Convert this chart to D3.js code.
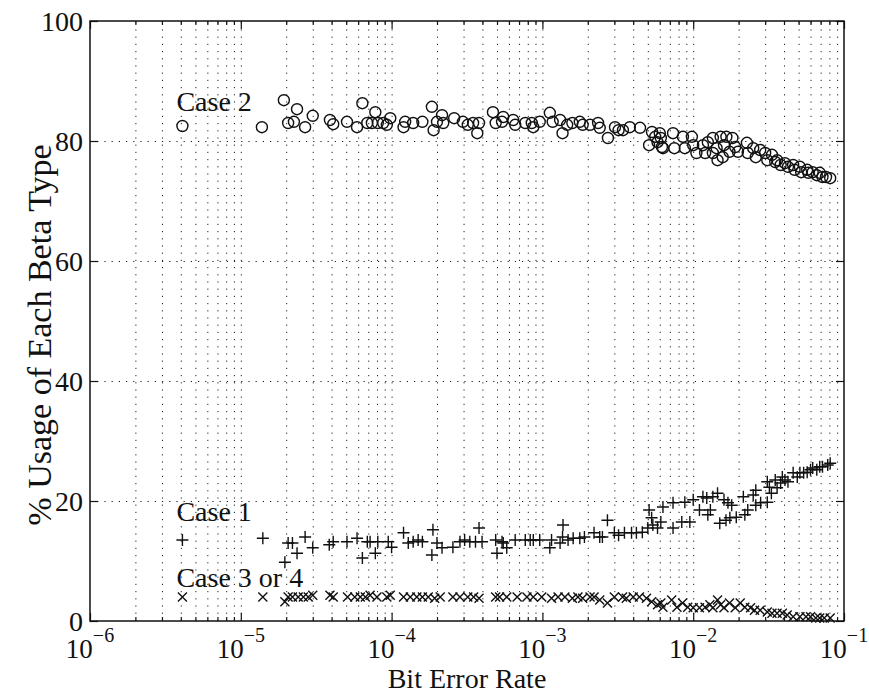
<!DOCTYPE html>
<html>
<head>
<meta charset="utf-8">
<script src="https://cdn.jsdelivr.net/npm/d3@7/dist/d3.min.js"></script>
<style>
  body { margin: 0; background: #fff; }
  .grid line { stroke: #222; stroke-width: 1; stroke-dasharray: 1.2 6; }
  .grid path, .ticks path { display: none; }
  .ticks line { stroke: #111; stroke-width: 1.2; }
</style>
</head>
<body>
<svg id="chart" width="869" height="693"></svg>
<script>
// Axis ticks
const xTickExponents = [-6, -5, -4, -3, -2, -1];
const yTicks = [0, 20, 40, 60, 80, 100];

// Series: [bit error rate, % usage]
const case2 = [
  [4.1e-6, 82.5], [1.38e-5, 82.3], [1.93e-5, 86.8], [2.06e-5, 83.0], [2.25e-5, 83.2],
  [2.36e-5, 85.3], [2.67e-5, 82.3], [3.0e-5, 84.2], [3.9e-5, 83.5], [4.1e-5, 82.8],
  [5.06e-5, 83.2], [5.9e-5, 82.3], [6.4e-5, 86.3], [6.9e-5, 83.0], [7.4e-5, 83.0],
  [7.8e-5, 84.8], [8.1e-5, 83.0], [8.8e-5, 83.0], [9.3e-5, 82.7], [9.8e-5, 83.8],
  [1.2e-4, 82.3], [1.23e-4, 83.2], [1.39e-4, 83.0], [1.6e-4, 83.2], [1.85e-4, 85.7],
  [1.9e-4, 81.8], [2.0e-4, 83.2], [2.16e-4, 84.3], [2.2e-4, 83.0], [2.6e-4, 83.8],
  [2.97e-4, 83.2], [3.2e-4, 82.7], [3.47e-4, 83.0], [3.7e-4, 81.3], [3.8e-4, 83.0],
  [4.7e-4, 84.8], [4.9e-4, 83.0], [5.4e-4, 83.2], [5.5e-4, 84.0], [6.4e-4, 83.5],
  [6.6e-4, 82.7], [7.7e-4, 83.0], [8.5e-4, 83.0], [8.7e-4, 82.3], [9.6e-4, 83.2],
  [1.12e-3, 84.7], [1.17e-3, 83.2], [1.31e-3, 83.5], [1.36e-3, 81.3], [1.46e-3, 82.7],
  [1.58e-3, 83.0], [1.77e-3, 83.2], [1.85e-3, 82.7], [2.07e-3, 82.7], [2.34e-3, 83.0],
  [2.4e-3, 82.2], [2.72e-3, 80.5], [3.03e-3, 82.3], [3.2e-3, 81.8], [3.42e-3, 81.8],
  [3.8e-3, 82.3], [4.44e-3, 82.2], [5.1e-3, 79.3], [5.33e-3, 81.5], [5.6e-3, 80.7],
  [5.8e-3, 79.8], [6.0e-3, 81.3], [6.1e-3, 80.5], [6.2e-3, 79.0], [6.3e-3, 78.8],
  [7.35e-3, 81.3], [7.5e-3, 78.8], [8.55e-3, 80.7], [8.8e-3, 78.8], [9.8e-3, 80.7],
  [1.0e-2, 79.3], [1.05e-2, 78.0], [1.16e-2, 79.3], [1.2e-2, 78.0], [1.25e-2, 79.8],
  [1.35e-2, 80.5], [1.35e-2, 78.0], [1.43e-2, 78.8], [1.45e-2, 76.8], [1.52e-2, 80.7],
  [1.57e-2, 77.3], [1.6e-2, 79.3], [1.66e-2, 80.7], [1.74e-2, 78.2], [1.82e-2, 80.5],
  [1.9e-2, 79.0], [1.98e-2, 78.2], [2.27e-2, 79.7], [2.3e-2, 78.0], [2.5e-2, 78.8],
  [2.6e-2, 77.3], [2.78e-2, 78.5], [3.0e-2, 78.0], [3.1e-2, 76.8], [3.33e-2, 77.7],
  [3.5e-2, 76.5], [3.6e-2, 76.8], [3.8e-2, 76.0], [4.06e-2, 76.3], [4.25e-2, 75.7],
  [4.6e-2, 76.0], [4.7e-2, 75.2], [5.1e-2, 75.7], [5.2e-2, 74.8], [5.7e-2, 75.2],
  [5.8e-2, 74.7], [6.2e-2, 74.8], [6.6e-2, 74.3], [6.9e-2, 74.7], [7.2e-2, 74.0],
  [7.6e-2, 74.0], [8.1e-2, 73.8],
];

const case1 = [
  [4.1e-6, 13.5], [1.4e-5, 13.8], [1.96e-5, 9.8], [2.06e-5, 13.0], [2.2e-5, 13.0],
  [2.36e-5, 11.3], [2.67e-5, 14.0], [3.0e-5, 12.2], [3.86e-5, 12.7], [4.1e-5, 13.2],
  [5.06e-5, 13.2], [5.9e-5, 13.8], [6.4e-5, 10.5], [6.9e-5, 13.2], [7.2e-5, 13.2],
  [7.8e-5, 11.3], [8.1e-5, 13.2], [9.5e-5, 13.2], [1.0e-4, 12.3], [1.2e-4, 14.7],
  [1.29e-4, 13.0], [1.39e-4, 13.2], [1.5e-4, 13.5], [1.6e-4, 13.2], [1.85e-4, 11.0],
  [1.88e-4, 15.2], [2.0e-4, 13.0], [2.16e-4, 12.2], [2.55e-4, 12.3], [2.84e-4, 13.2],
  [3.05e-4, 13.5], [3.3e-4, 13.2], [3.6e-4, 13.2], [3.8e-4, 15.5], [3.98e-4, 13.2],
  [4.9e-4, 13.5], [5.0e-4, 11.3], [5.4e-4, 13.2], [5.5e-4, 13.0], [5.8e-4, 12.2],
  [6.6e-4, 13.5], [7.7e-4, 13.5], [8.3e-4, 13.5], [8.7e-4, 13.5], [9.6e-4, 13.5],
  [1.12e-3, 12.2], [1.15e-3, 13.5], [1.31e-3, 13.0], [1.36e-3, 14.0], [1.37e-3, 16.0],
  [1.48e-3, 13.5], [1.6e-3, 13.8], [1.77e-3, 13.8], [1.9e-3, 14.0], [2.2e-3, 14.7],
  [2.4e-3, 14.0], [2.5e-3, 14.0], [2.7e-3, 16.8], [3.0e-3, 14.7], [3.2e-3, 14.3],
  [3.5e-3, 14.7], [3.9e-3, 14.7], [4.2e-3, 14.7], [4.6e-3, 14.8], [5.0e-3, 15.5],
  [5.1e-3, 18.5], [5.3e-3, 17.2], [5.4e-3, 16.0], [5.8e-3, 15.5], [6.1e-3, 16.5],
  [6.3e-3, 19.0], [7.35e-3, 19.7], [7.35e-3, 15.5], [8.4e-3, 16.5], [8.8e-3, 19.8],
  [9.5e-3, 16.5], [1.0e-2, 20.2], [1.1e-2, 18.5], [1.16e-2, 20.7], [1.23e-2, 20.5],
  [1.25e-2, 17.7], [1.3e-2, 18.5], [1.35e-2, 20.7], [1.45e-2, 21.3], [1.5e-2, 16.3],
  [1.6e-2, 20.2], [1.65e-2, 16.8], [1.7e-2, 19.7], [1.75e-2, 17.2], [1.8e-2, 19.3],
  [1.93e-2, 17.3], [2.15e-2, 20.7], [2.2e-2, 17.7], [2.3e-2, 18.5], [2.5e-2, 21.0],
  [2.6e-2, 21.8], [2.6e-2, 19.3], [2.8e-2, 19.7], [3.1e-2, 19.8], [3.1e-2, 23.2],
  [3.2e-2, 22.3], [3.3e-2, 21.3], [3.5e-2, 23.5], [3.6e-2, 22.2], [3.8e-2, 23.0],
  [3.9e-2, 24.0], [4.06e-2, 23.5], [4.25e-2, 23.2], [4.6e-2, 24.7], [4.9e-2, 24.0],
  [5.1e-2, 24.7], [5.4e-2, 24.7], [5.7e-2, 24.8], [6.0e-2, 25.2], [6.2e-2, 25.5],
  [6.6e-2, 25.2], [6.9e-2, 25.7], [7.2e-2, 25.7], [7.8e-2, 26.0], [8.1e-2, 26.3],
];

const case34 = [
  [4.1e-6, 4.0], [1.4e-5, 4.0], [1.96e-5, 3.2], [2.06e-5, 4.0], [2.2e-5, 4.0],
  [2.4e-5, 4.0], [2.6e-5, 4.0], [2.8e-5, 4.0], [3.0e-5, 4.3], [3.9e-5, 4.3],
  [4.1e-5, 4.0], [5.1e-5, 4.0], [5.7e-5, 4.0], [6.2e-5, 4.0], [6.7e-5, 4.0],
  [7.2e-5, 4.3], [8.0e-5, 4.0], [9.3e-5, 4.0], [9.8e-5, 4.3], [1.2e-4, 4.0],
  [1.33e-4, 4.0], [1.47e-4, 4.0], [1.6e-4, 4.0], [1.75e-4, 4.0], [1.93e-4, 3.8],
  [2.1e-4, 4.0], [2.55e-4, 4.0], [2.84e-4, 4.0], [3.2e-4, 4.0], [3.5e-4, 4.0],
  [3.8e-4, 3.8], [4.9e-4, 4.0], [5.2e-4, 4.0], [5.8e-4, 4.0], [6.8e-4, 4.0],
  [7.9e-4, 4.0], [8.7e-4, 4.0], [9.9e-4, 4.0], [1.15e-3, 3.8], [1.27e-3, 4.0],
  [1.41e-3, 4.0], [1.58e-3, 3.8], [1.72e-3, 4.0], [1.85e-3, 3.8], [2.07e-3, 4.0],
  [2.2e-3, 4.0], [2.4e-3, 3.5], [2.7e-3, 3.0], [3.0e-3, 4.0], [3.4e-3, 4.0],
  [3.6e-3, 3.8], [4.0e-3, 4.0], [4.4e-3, 4.0], [4.9e-3, 3.8], [5.3e-3, 3.2],
  [5.8e-3, 2.7], [6.1e-3, 3.0], [6.3e-3, 2.3], [7.2e-3, 3.5], [7.8e-3, 2.3],
  [8.5e-3, 3.0], [9.2e-3, 2.3], [1.0e-2, 2.2], [1.1e-2, 2.2], [1.2e-2, 2.3],
  [1.29e-2, 2.7], [1.35e-2, 2.2], [1.45e-2, 3.5], [1.52e-2, 2.7], [1.6e-2, 2.2],
  [1.74e-2, 3.0], [1.9e-2, 2.2], [2.05e-2, 3.0], [2.2e-2, 2.3], [2.4e-2, 2.2],
  [2.55e-2, 1.8], [2.78e-2, 1.8], [3.1e-2, 1.5], [3.33e-2, 1.3], [3.6e-2, 1.3],
  [3.9e-2, 1.3], [4.2e-2, 1.0], [4.6e-2, 0.7], [5.1e-2, 0.7], [5.6e-2, 0.7],
  [6.0e-2, 0.7], [6.5e-2, 0.5], [6.9e-2, 0.5], [7.4e-2, 0.5], [8.1e-2, 0.5],
];

// Case labels: [text, x anchor (BER), y baseline (%)]
const caseLabels = [
  ['Case 2', 4.1e-6, 85],
  ['Case 1', 4.1e-6, 16.7],
  ['Case 3 or 4', 4.1e-6, 5.7],
];

const serif = "'Liberation Serif', 'Times New Roman', Times, serif";

const margin = { top: 21, right: 25, bottom: 72, left: 90 };
const width = 869 - margin.left - margin.right;
const height = 693 - margin.top - margin.bottom;

const svg = d3.select('#chart');
const g = svg.append('g').attr('transform', `translate(${margin.left},${margin.top})`);

const x = d3.scaleLog().domain([1e-6, 1e-1]).range([0, width]);
const y = d3.scaleLinear().domain([0, 100]).range([height, 0]);

const majorX = xTickExponents.map((e) => Math.pow(10, e));
const minorX = x.ticks().filter((t) => !majorX.some((m) => Math.abs(m - t) / m < 1e-6));

// Dotted grid
g.append('g')
  .attr('class', 'grid')
  .attr('transform', `translate(0,${height})`)
  .call(d3.axisBottom(x).tickValues(x.ticks().filter((t) => t > 1.0001e-6 && t < 0.0999)).tickSize(-height).tickFormat(''));
g.append('g')
  .attr('class', 'grid')
  .call(d3.axisLeft(y).tickValues(yTicks.slice(1, -1)).tickSize(-width).tickFormat(''));

// Inward ticks on all four sides
const tickAxes = [
  { axis: d3.axisBottom(x), t: `translate(0,${height})`, vals: majorX, size: -8 },
  { axis: d3.axisBottom(x), t: `translate(0,${height})`, vals: minorX, size: -4 },
  { axis: d3.axisTop(x), t: 'translate(0,0)', vals: majorX, size: -8 },
  { axis: d3.axisTop(x), t: 'translate(0,0)', vals: minorX, size: -4 },
  { axis: d3.axisLeft(y), t: 'translate(0,0)', vals: yTicks, size: -8 },
  { axis: d3.axisRight(y), t: `translate(${width},0)`, vals: yTicks, size: -8 },
];
tickAxes.forEach(({ axis, t, vals, size }) => {
  g.append('g')
    .attr('class', 'ticks')
    .attr('transform', t)
    .call(axis.tickValues(vals).tickSize(size).tickFormat(''));
});

// Frame
g.append('rect')
  .attr('width', width)
  .attr('height', height)
  .attr('fill', 'none')
  .attr('stroke', '#111')
  .attr('stroke-width', 1.5);

// Y tick labels
g.selectAll('.ylab')
  .data(yTicks)
  .join('text')
  .attr('x', -7)
  .attr('y', (d) => y(d) + 10)
  .attr('text-anchor', 'end')
  .attr('fill', '#111')
  .style('font-family', serif)
  .style('font-size', '28px')
  .text((d) => d);

// X tick labels: 10 with superscript exponent
const xlab = g.selectAll('.xlab')
  .data(xTickExponents)
  .join('text')
  .attr('x', (d) => x(Math.pow(10, d)))
  .attr('y', height + 37)
  .attr('text-anchor', 'middle')
  .attr('fill', '#111')
  .style('font-family', serif)
  .style('font-size', '27px');
xlab.append('tspan').text('10');
xlab.append('tspan')
  .attr('dy', -16)
  .style('font-size', '20px')
  .text((d) => '\u2212' + Math.abs(d));

// Axis titles
svg.append('text')
  .attr('x', margin.left + width / 2)
  .attr('y', 688)
  .attr('text-anchor', 'middle')
  .attr('fill', '#111')
  .style('font-family', serif)
  .style('font-size', '28px')
  .text('Bit Error Rate');

svg.append('text')
  .attr('transform', 'translate(51,335) rotate(-90)')
  .attr('text-anchor', 'middle')
  .attr('fill', '#111')
  .style('font-family', serif)
  .style('font-size', '34px')
  .text('% Usage of Each Beta Type');

// Case labels
g.selectAll('.case')
  .data(caseLabels)
  .join('text')
  .attr('x', (d) => x(d[1]) - 6)
  .attr('y', (d) => y(d[2]))
  .attr('fill', '#111')
  .style('font-family', serif)
  .style('font-size', '28px')
  .text((d) => d[0]);

// Markers
const marks = g.append('g')
  .attr('fill', 'none')
  .attr('stroke', '#111')
  .attr('stroke-width', 1.4);

marks.selectAll('.c2')
  .data(case2)
  .join('circle')
  .attr('cx', (d) => x(d[0]))
  .attr('cy', (d) => y(d[1]))
  .attr('r', 5.5);

marks.selectAll('.c1')
  .data(case1)
  .join('path')
  .attr('transform', (d) => `translate(${x(d[0])},${y(d[1])})`)
  .attr('d', 'M-6,0H6M0,-6V6');

marks.selectAll('.c34')
  .data(case34)
  .join('path')
  .attr('transform', (d) => `translate(${x(d[0])},${y(d[1])})`)
  .attr('d', 'M-4.5,-4.5L4.5,4.5M-4.5,4.5L4.5,-4.5');
</script>
</body>
</html>
